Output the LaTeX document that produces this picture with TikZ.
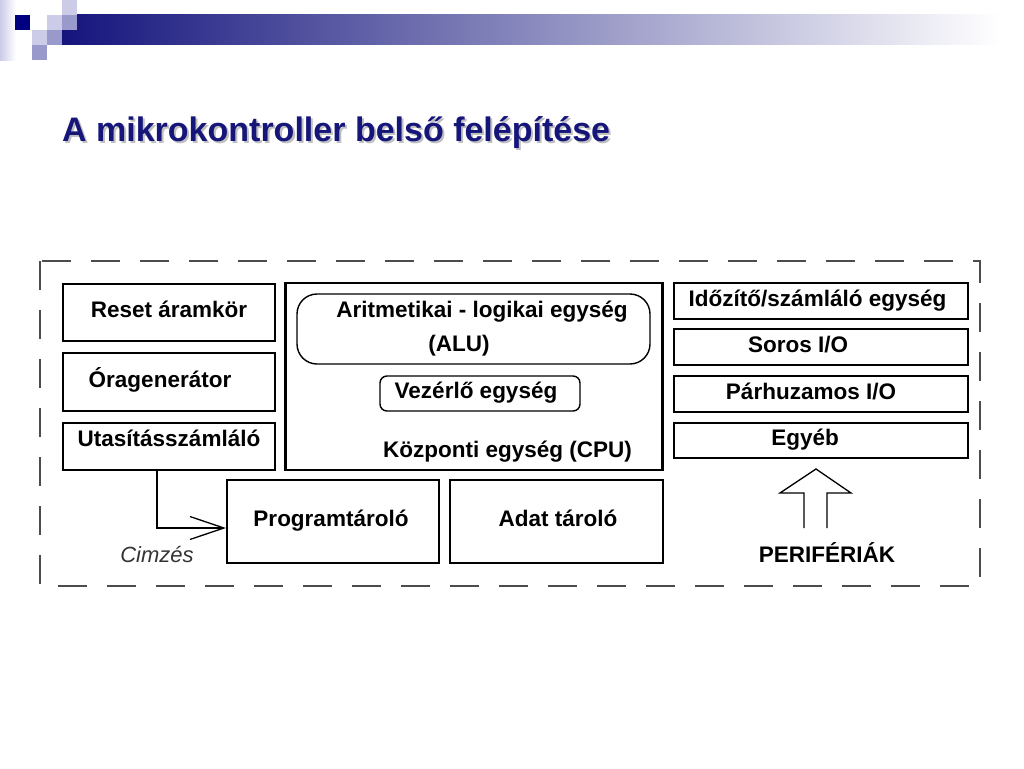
\documentclass[tikz,border=0pt]{standalone}
\usepackage{fontspec}
\setmainfont{Liberation Sans}
\usetikzlibrary{arrows.meta}
\definecolor{titleblue}{RGB}{22,22,122}
\definecolor{decoNavy}{RGB}{0,0,128}
\definecolor{decoMid}{RGB}{153,153,204}
\definecolor{decoLight}{RGB}{204,204,232}
\definecolor{barLeft}{RGB}{20,20,125}
\definecolor{barMid}{RGB}{172,172,196}
\begin{document}
\begin{tikzpicture}[x=1pt,y=-1pt,
    box/.style={draw,line width=2.1pt,text height=12pt,text depth=2pt},
    rbox/.style={draw,line width=1.4pt,rounded corners=#1},
    square/.style={fill=#1,draw=none}]
\tikzset{every node/.style={inner sep=0pt,font=\fontsize{22.5}{34}\selectfont\bfseries}}
\useasboundingbox (0,0) rectangle (1024,768);
% header decoration
\shade[left color=decoLight,right color=white] (0,0) rectangle (16,60);
\shade[left color=barLeft,middle color=barMid,right color=white] (62,15) rectangle (1000,45);
\fill[square=decoLight] (62,0) rectangle +(15,15);
\fill[square=decoNavy] (15,15) rectangle +(15,15);
\fill[square=decoLight] (47,15) rectangle +(15,15);
\fill[square=decoMid] (62,15) rectangle +(15,15);
\fill[square=decoLight] (32,30) rectangle +(15,15);
\fill[square=decoMid] (47,30) rectangle +(15,15);
\fill[square=decoMid] (32,45) rectangle +(15,15);
% title
\node[anchor=base west,font=\fontsize{34}{40}\selectfont\bfseries,text=black!25]
    at (64,143.5) {A mikrokontroller belső felépítése};
\node[anchor=base west,font=\fontsize{34}{40}\selectfont\bfseries,text=titleblue]
    (title) at (62,141.5) {A mikrokontroller belső felépítése};
% frame
\draw[draw=black!70,line width=1.3pt,dash pattern=on 29pt off 20pt] (40,261) rectangle (980,586);
% left column
\node[box,minimum width=212,minimum height=57] (reset) at (169,312.5) {Reset áramkör};
\node[box,minimum width=212,minimum height=58] (ora) at (169,382) {Óragenerátor\hspace*{18pt}};
\node[box,minimum width=212,minimum height=47,text depth=13pt] (utas) at (169,446.5) {Utasításszámláló};
% CPU
\node[box,minimum width=377,minimum height=187] (cpu) at (474,376.5) {};
\node[rbox=20pt,minimum width=353,minimum height=70,align=center] (alu) at (473.5,329)
    {\hspace*{17pt}Aritmetikai - logikai egység\\(ALU)\hspace*{29pt}};
\node[rbox=7pt,minimum width=200,minimum height=35,text height=12pt,text depth=2pt] (vez)
    at (480,393.5) {Vezérlő egység\hspace*{8pt}};
\node[anchor=base] (cputxt) at (507.5,457) {Központi egység (CPU)};
% memories
\node[box,minimum width=212,minimum height=83] (prog) at (333,521.5) {Programtároló\hspace*{4pt}};
\node[box,minimum width=213,minimum height=83] (adat) at (556.5,521.5) {\hspace*{3pt}Adat tároló};
% peripherals
\node[box,minimum width=294,minimum height=36] (idozito) at (821,301) {Időzítő/számláló egység\hspace*{7pt}};
\node[box,minimum width=294,minimum height=36] (soros) at (821,347) {Soros I/O\hspace*{46pt}};
\node[box,minimum width=294,minimum height=36] (parh) at (821,394) {Párhuzamos I/O\hspace*{20pt}};
\node[box,minimum width=294,minimum height=35] (egyeb) at (821,440.5) {Egyéb\hspace*{32pt}};
\node[anchor=base] (perif) at (827,562) {PERIFÉRIÁK};
\draw[line width=1.3pt] (804,528) -- (804,493) -- (780,493) -- (816,469)
    -- (851,493) -- (827,493) -- (827,528);
% addressing
\draw[line width=1.3pt,-{Straight Barb[length=34pt,width=23pt]}]
    ([xshift=-12pt]utas.south) |- ([yshift=-6.5pt]prog.west);
\node[anchor=base,font=\fontsize{22}{26}\selectfont\itshape,text=black!80] (cimzes)
    at (157,562) {Cimzés};
\end{tikzpicture}
\end{document}
